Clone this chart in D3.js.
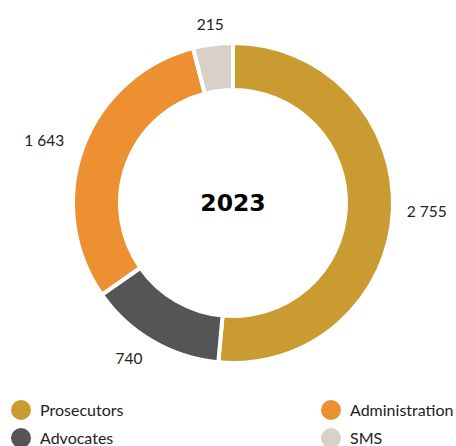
<!DOCTYPE html>
<html>
<head>
<meta charset="utf-8">
<script src="https://cdn.jsdelivr.net/npm/d3@7"></script>
<style>
  body { margin: 0; background: #fff; }
  svg { display: block; }
  .value-label { font-family: Lato, "Open Sans", sans-serif; font-size: 15.5px; fill: #222; }
  .legend-label { font-family: Lato, "Open Sans", sans-serif; font-size: 16px; fill: #222; }
  .year { font-family: "DejaVu Sans", sans-serif; font-weight: bold; font-size: 23.5px; fill: #000; }
</style>
</head>
<body>
<div id="chart"></div>
<script>
// chart data
const categories = ["Prosecutors", "Advocates", "Administration", "SMS"];
const values = [2755, 740, 1643, 215];
const colors = ["#C99B31", "#555557", "#EC9031", "#D9D0C7"];
const centerLabel = "2023";
// legend order, two columns
const legendOrder = ["Prosecutors", "Administration", "Advocates", "SMS"];

const width = 456,
    height = 446,
    cx = 233,
    cy = 203,
    outerRadius = 160,
    innerRadius = 113,
    labelRadius = 180;

const fmt = d => d3.format(",")(d).replace(/,/g, " ");

const svg = d3.select("#chart").append("svg")
    .attr("width", width)
    .attr("height", height);

const g = svg.append("g")
    .attr("transform", `translate(${cx},${cy})`);

const color = d3.scaleOrdinal().domain(categories).range(colors);

const pie = d3.pie()
    .sort(null)
    .value(d => d.value);

const data = categories.map((c, i) => ({ name: c, value: values[i] }));

const arc = d3.arc()
    .innerRadius(innerRadius)
    .outerRadius(outerRadius);

// slices
g.selectAll("path.slice")
    .data(pie(data))
    .join("path")
    .attr("class", "slice")
    .attr("d", arc)
    .attr("fill", d => color(d.data.name))
    .attr("stroke", "#fff")
    .attr("stroke-width", 4)
    .attr("stroke-linejoin", "miter");

// value labels outside the ring
g.selectAll("text.value-label")
    .data(pie(data))
    .join("text")
    .attr("class", "value-label")
    .each(function (d) {
        const a = (d.startAngle + d.endAngle) / 2;
        const s = Math.sin(a), c = Math.cos(a);
        const x = labelRadius * s, y = -labelRadius * c;
        d3.select(this)
            .attr("x", s > 0.3 ? x - 6 : x)
            .attr("y", y)
            .attr("dy", "0.35em")
            .attr("text-anchor", s > 0.3 ? "start" : s < -0.3 ? "end" : "middle");
    })
    .text(d => fmt(d.data.value));

// year in the middle
g.append("text")
    .attr("class", "year")
    .attr("text-anchor", "middle")
    .attr("dy", "0.36em")
    .text(centerLabel);

// legend
const legend = svg.append("g")
    .selectAll("g")
    .data(legendOrder)
    .join("g")
    .attr("transform", (d, i) => `translate(${i % 2 === 0 ? 21 : 331},${410 + Math.floor(i / 2) * 28})`);

legend.append("circle")
    .attr("r", 10)
    .attr("fill", d => color(d));

legend.append("text")
    .attr("class", "legend-label")
    .attr("x", 19)
    .attr("y", 6)
    .text(d => d);
</script>
</body>
</html>
